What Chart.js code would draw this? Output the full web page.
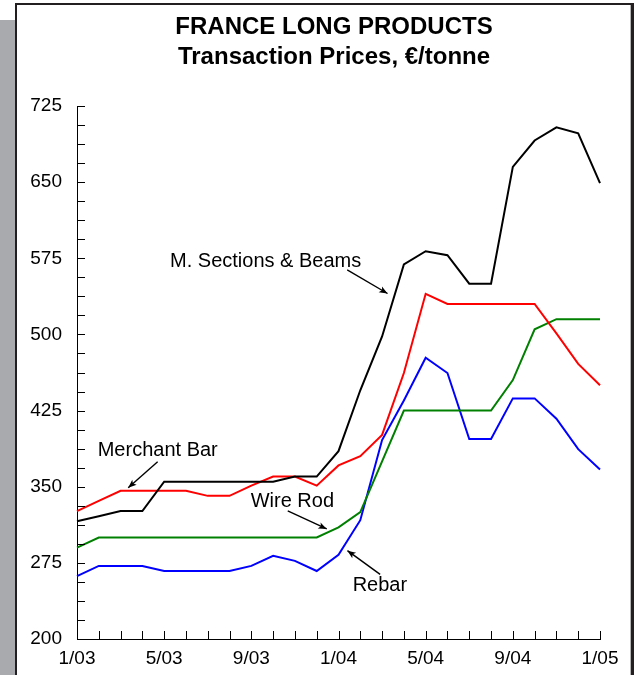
<!DOCTYPE html>
<html>
<head>
<meta charset="utf-8">
<script src="https://cdn.jsdelivr.net/npm/chart.js@4.4.1/dist/chart.umd.min.js"></script>
<style>
  html, body { margin: 0; padding: 0; background: #fff; }
  #wrap { position: relative; width: 634px; height: 675px; overflow: hidden; }
  #shade { position: absolute; left: 0; top: 20px; width: 15px; height: 655px; background: #a9aaae; }
  #frame { position: absolute; left: 15px; top: 3px; width: 614px; height: 700px;
           border-top: 2px solid #231f20; border-left: 2px solid #231f20; border-right: 3px solid #231f20;
           box-shadow: inset -1px 0 0 #b5b5b5; background: #fff; }
  #chart { position: absolute; left: 0; top: 0; }
</style>
</head>
<body>
<div id="wrap">
  <div id="shade"></div>
  <div id="frame"></div>
  <canvas id="chart" width="634" height="675"></canvas>
</div>
<script>
// months, Jan 2003 .. Jan 2005
const months = ['1/03','2/03','3/03','4/03','5/03','6/03','7/03','8/03','9/03','10/03','11/03','12/03',
                '1/04','2/04','3/04','4/04','5/04','6/04','7/04','8/04','9/04','10/04','11/04','12/04','1/05'];
const shownMonths = ['1/03','5/03','9/03','1/04','5/04','9/04','1/05'];
const yTickLabels = [200, 275, 350, 425, 500, 575, 650, 725];

// prices, €/tonne
const sectionsBeams = [316, 321, 326, 326, 355, 355, 355, 355, 355, 355, 360, 360, 385, 445, 498, 569, 582, 578, 550, 550, 665, 691, 704, 698, 649];
const merchantBar   = [326, 336, 346, 346, 346, 346, 341, 341, 351, 360, 360, 351, 371, 380, 401, 462, 540, 530, 530, 530, 530, 530, 501, 471, 450];
const wireRod       = [290, 300, 300, 300, 300, 300, 300, 300, 300, 300, 300, 300, 310, 325, 375, 425, 425, 425, 425, 425, 455, 505, 515, 515, 515];
const rebar         = [262, 272, 272, 272, 267, 267, 267, 267, 272, 282, 277, 267, 283, 317, 396, 435, 477, 462, 397, 397, 437, 437, 417, 387, 367];

// callouts: text anchor and arrow, in (month index, price)
const notes = [
  { text: 'M. Sections & Beams', at: [4.27, 572.3], from: [12.40, 563.5], to: [14.25, 540.3] },
  { text: 'Merchant Bar',        at: [0.95, 385.2], from: [3.70, 374.6],  to: [2.35, 349.0] },
  { text: 'Wire Rod',            at: [7.97, 335.2], from: [9.67, 326.1],  to: [11.46, 308.4] },
  { text: 'Rebar',               at: [12.65, 253.2], from: [13.91, 263.7], to: [12.41, 287.0] }
];

const FONT = '"Liberation Sans", Arial, Helvetica, sans-serif';
const TITLE_CENTER = 334;
Chart.defaults.color = '#000';

// title sits a bit right of the page centre
const titleShift = {
  id: 'titleShift',
  afterLayout(chart) {
    const tb = chart.titleBlock;
    const d = TITLE_CENTER - (tb.left + tb.right) / 2;
    tb.left += d;
    tb.right += d;
  }
};

const axisTicks = {
  id: 'axisTicks',
  afterDraw(chart) {
    const { ctx, chartArea: a, scales: { x, y } } = chart;
    ctx.save();
    ctx.strokeStyle = '#000';
    ctx.lineWidth = 1;
    ctx.beginPath();
    y.ticks.forEach(t => {
      const py = Math.round(y.getPixelForValue(t.value)) + 0.5;
      ctx.moveTo(a.left, py);
      ctx.lineTo(a.left + 8, py);
    });
    months.forEach((m, i) => {
      const px = Math.round(x.getPixelForValue(i)) + 0.5;
      ctx.moveTo(px, a.bottom);
      ctx.lineTo(px, a.bottom - 8);
    });
    ctx.stroke();
    ctx.restore();
  }
};

function arrow(ctx, x1, y1, x2, y2) {
  const ang = Math.atan2(y2 - y1, x2 - x1), h = 9, w = 0.38;
  ctx.beginPath();
  ctx.moveTo(x1, y1);
  ctx.lineTo(x2, y2);
  ctx.stroke();
  ctx.beginPath();
  ctx.moveTo(x2, y2);
  ctx.lineTo(x2 - h * Math.cos(ang - w), y2 - h * Math.sin(ang - w));
  ctx.lineTo(x2 - h * 0.7 * Math.cos(ang), y2 - h * 0.7 * Math.sin(ang));
  ctx.lineTo(x2 - h * Math.cos(ang + w), y2 - h * Math.sin(ang + w));
  ctx.closePath();
  ctx.fill();
}

const callouts = {
  id: 'callouts',
  afterDraw(chart) {
    const { ctx, scales: { x, y } } = chart;
    ctx.save();
    ctx.fillStyle = '#000';
    ctx.strokeStyle = '#000';
    ctx.lineWidth = 1.4;
    ctx.font = '20px ' + FONT;
    ctx.textAlign = 'left';
    ctx.textBaseline = 'middle';
    notes.forEach(n => {
      ctx.fillText(n.text, x.getPixelForValue(n.at[0]), y.getPixelForValue(n.at[1]));
      arrow(ctx, x.getPixelForValue(n.from[0]), y.getPixelForValue(n.from[1]),
                 x.getPixelForValue(n.to[0]), y.getPixelForValue(n.to[1]));
    });
    ctx.restore();
  }
};

function series(label, data, color) {
  return { label, data, borderColor: color, backgroundColor: color, borderWidth: 2,
           pointRadius: 0, tension: 0, fill: false };
}

new Chart(document.getElementById('chart'), {
  type: 'line',
  data: {
    labels: months,
    datasets: [
      series('M. Sections & Beams', sectionsBeams, '#000000'),
      series('Merchant Bar', merchantBar, '#ff0000'),
      series('Wire Rod', wireRod, '#008000'),
      series('Rebar', rebar, '#0000ff')
    ]
  },
  options: {
    responsive: false,
    animation: false,
    devicePixelRatio: 1,
    layout: { autoPadding: false, padding: { left: 20, right: 34, top: 0, bottom: 0 } },
    plugins: {
      legend: { display: false },
      tooltip: { enabled: false },
      title: {
        display: true,
        text: ['FRANCE LONG PRODUCTS', 'Transaction Prices, €/tonne'],
        color: '#000',
        font: { family: FONT, size: 24, weight: 'bold', lineHeight: 1.25 },
        padding: { top: 12, bottom: 34 }
      }
    },
    scales: {
      x: {
        offset: false,
        grid: { display: false, drawTicks: false },
        border: { display: true, color: '#000', width: 1 },
        ticks: {
          autoSkip: false, maxRotation: 0, padding: 8, color: '#000',
          font: { family: FONT, size: 19 },
          callback: function (v) {
            const l = this.getLabelForValue(v);
            return shownMonths.includes(l) ? l : '';
          }
        },
        afterFit: s => { s.height = 36; }
      },
      y: {
        min: 200, max: 725,
        grid: { display: false, drawTicks: false },
        border: { display: true, color: '#000', width: 1 },
        ticks: {
          autoSkip: false, padding: 15, color: '#000',
          font: { family: FONT, size: 19 },
          callback: v => yTickLabels.includes(v) ? String(v) : ''
        },
        afterBuildTicks: s => {
          const t = [];
          for (let i = 0; i < yTickLabels.length - 1; i++) {
            const step = (yTickLabels[i + 1] - yTickLabels[i]) / 4;
            for (let k = 0; k < 4; k++) t.push({ value: yTickLabels[i] + k * step });
          }
          t.push({ value: yTickLabels[yTickLabels.length - 1] });
          s.ticks = t;
        },
        afterFit: s => { s.width = 57; }
      }
    }
  },
  plugins: [titleShift, axisTicks, callouts]
});
</script>
</body>
</html>
